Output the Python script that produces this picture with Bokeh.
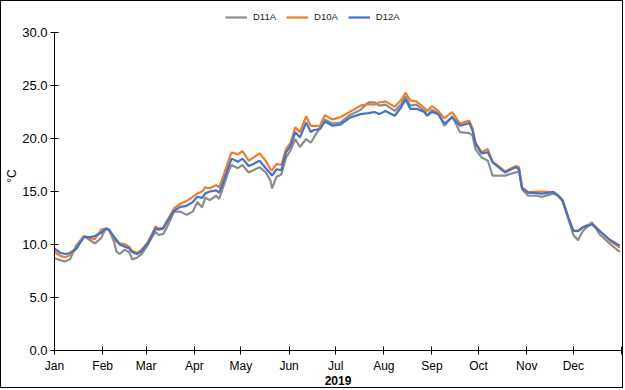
from bokeh.plotting import figure
from bokeh.models import Range1d, FixedTicker, Legend, LegendItem, PrintfTickFormatter
from bokeh.embed import file_html
from bokeh.resources import INLINE

# day of year 2019 (0 = 1 Jan)
days = [0, 4, 7, 10, 14, 19, 23, 26, 30, 33, 35, 38, 40, 42, 45, 48, 50, 53, 56, 60,
        63, 65, 67, 70, 72, 77, 81, 85, 89, 92, 95, 97, 100, 104, 106, 109, 112, 114, 118, 121,
        125, 128, 132, 136, 139, 140, 143, 146, 149, 152, 155, 158, 162, 165, 167, 171, 174, 179, 184, 190,
        197, 202, 206, 209, 213, 219, 223, 226, 229, 233, 238, 240, 243, 247, 251, 256, 261, 267, 269, 271,
        275, 279, 282, 285, 290, 297, 299, 301, 305, 310, 314, 321, 324, 327, 331, 334, 337, 340, 346, 351,
        358, 363, 364]

d12a = [9.6, 9.2, 9.1, 9.2, 9.6, 10.7, 10.7, 10.8, 11.1, 11.5, 11.4, 10.8, 10.4, 10.0, 9.8, 9.65, 9.3, 9.1, 9.35, 10.1,
        10.9, 11.5, 11.4, 11.5, 12.0, 13.2, 13.55, 13.65, 14.0, 14.5, 14.4, 14.8, 15.0, 15.1, 14.9, 16.05, 17.3, 18.1, 17.8, 18.1,
        17.4, 17.6, 17.9, 17.2, 16.7, 16.5, 17.1, 17.0, 18.7, 19.3, 20.6, 20.1, 21.5, 20.6, 20.8, 20.9, 21.6, 21.2, 21.3, 21.95,
        22.3, 22.4, 22.5, 22.3, 22.6, 22.15, 22.9, 23.7, 22.8, 22.8, 22.5, 22.15, 22.5, 22.3, 21.4, 22.0, 21.2, 21.45, 20.8, 19.5,
        18.6, 18.7, 17.75, 17.4, 16.8, 17.3, 17.1, 15.3, 14.9, 14.85, 14.8, 14.95, 14.65, 14.2, 12.45, 11.3, 11.25, 11.6, 11.9, 11.25,
        10.4, 9.96, 9.9]

d10a = [9.3, 8.9, 8.8, 9.0, 9.6, 10.8, 10.6, 10.5, 11.4, 11.5, 11.4, 10.7, 10.25, 10.1, 10.05, 9.8, 9.4, 9.2, 9.5, 10.2,
        11.05, 11.7, 11.5, 11.6, 12.15, 13.4, 13.85, 14.1, 14.5, 14.8, 15.0, 15.4, 15.3, 15.6, 15.4, 16.6, 17.9, 18.7, 18.5, 18.8,
        17.9, 18.2, 18.6, 17.9, 17.1, 17.0, 17.6, 17.5, 19.0, 19.6, 21.05, 20.6, 22.1, 21.2, 21.2, 21.2, 22.2, 21.8, 22.0, 22.5,
        23.1, 23.25, 23.2, 23.4, 23.5, 23.0, 23.6, 24.3, 23.6, 23.5, 22.9, 22.6, 23.05, 22.6, 21.9, 22.5, 21.4, 21.7, 21.0, 19.65,
        18.7, 19.0, 17.8, 17.5, 16.9, 17.4, 17.3, 15.4, 14.95, 15.0, 15.0, 14.95, 14.65, 14.2, 12.45, 11.3, 11.3, 11.65, 12.0, 11.3,
        10.3, 9.8, 9.7]

d11a = [8.7, 8.5, 8.4, 8.6, 9.9, 10.8, 10.4, 10.1, 10.6, 11.5, 11.4, 10.4, 9.3, 9.1, 9.5, 9.3, 8.6, 8.75, 9.1, 9.95,
        10.75, 11.2, 10.9, 11.0, 11.5, 13.1, 13.1, 12.8, 13.1, 14.0, 13.5, 14.4, 14.2, 14.6, 14.3, 15.6, 16.9, 17.5, 17.2, 17.5,
        16.8, 17.0, 17.3, 16.8, 16.05, 15.3, 16.4, 16.6, 18.2, 18.9, 19.95, 19.2, 19.95, 19.6, 20.1, 21.05, 21.8, 21.4, 21.5, 22.2,
        22.7, 23.4, 23.4, 23.1, 23.2, 22.6, 23.2, 23.95, 23.1, 23.2, 22.6, 22.2, 22.7, 22.4, 21.2, 22.1, 20.6, 20.5, 20.3, 19.0,
        18.2, 17.9, 16.5, 16.5, 16.5, 16.8, 16.9, 15.2, 14.6, 14.6, 14.5, 14.8, 14.6, 14.1, 12.3, 10.9, 10.4, 11.25, 12.1, 10.95,
        10.0, 9.4, 9.3]

month_ticks = [0, 31, 59, 90, 120, 151, 181, 212, 243, 273, 304, 334, 365]
month_labels = ["Jan", "Feb", "Mar", "Apr", "May", "Jun", "Jul", "Aug", "Sep", "Oct", "Nov", "Dec", ""]
y_ticks = [0, 5, 10, 15, 20, 25, 30]
series_names = ["D11A", "D10A", "D12A"]
series_colors = ["#8C8C8C", "#ED7D31", "#4472C4"]

FONT = "Liberation Sans"
W, H = 623, 388
BL, BR, BT, BB = 53, 3, 0, 39
frame_h = H - BT - BB
y_top = 30 + 31 * 30.0 / (frame_h - 31)   # leaves room above 30.0 for the legend

p = figure(width=W, height=H, output_backend="svg", toolbar_location=None,
           x_range=Range1d(0, 365), y_range=Range1d(0, y_top),
           min_border_left=BL, min_border_right=BR, min_border_top=BT, min_border_bottom=BB,
           background_fill_color="white", border_fill_color="white")
p.styles = {"border": "1px solid black"}
p.outline_line_color = None
p.xgrid.visible = False
p.ygrid.visible = False

renderers = []
for ys, col in zip([d11a, d10a, d12a], series_colors):
    r = p.line(days, ys, line_color=col, line_width=2.2)
    renderers.append(r)

legend = Legend(items=[LegendItem(label=n, renderers=[r]) for n, r in zip(series_names, renderers)],
                orientation="horizontal", location=(171, frame_h - 21),
                label_text_font=FONT, label_text_font_size="9.5px", label_text_color="#222222",
                glyph_width=22, glyph_height=10, label_height=10, label_standoff=6, spacing=10,
                padding=2, margin=0, border_line_color=None, background_fill_alpha=0)
p.add_layout(legend)

xa = p.xaxis[0]
xa.ticker = FixedTicker(ticks=month_ticks)
xa.major_label_overrides = {t: l for t, l in zip(month_ticks, month_labels)}
xa.minor_tick_line_color = None
xa.major_tick_in = 4
xa.major_tick_out = 4
xa.major_label_standoff = 4
xa.axis_line_color = "black"
xa.major_tick_line_color = "black"
xa.major_label_text_font = FONT
xa.major_label_text_font_size = "12px"
xa.major_label_text_color = "black"
xa.axis_label = "2019"
xa.axis_label_text_font = FONT
xa.axis_label_text_font_size = "12px"
xa.axis_label_text_font_style = "bold"
xa.axis_label_text_color = "black"
xa.axis_label_standoff = 0

ya = p.yaxis[0]
ya.ticker = FixedTicker(ticks=y_ticks)
ya.bounds = (0, 30)
ya.formatter = PrintfTickFormatter(format="%.1f")
ya.minor_tick_line_color = None
ya.major_tick_in = 4
ya.major_tick_out = 4
ya.major_label_standoff = 3
ya.axis_line_color = "black"
ya.major_tick_line_color = "black"
ya.major_label_text_font = FONT
ya.major_label_text_font_size = "13px"
ya.major_label_text_color = "black"
ya.axis_label = "°C"
ya.axis_label_text_font = FONT
ya.axis_label_text_font_size = "12px"
ya.axis_label_text_font_style = "normal"
ya.axis_label_text_color = "black"
ya.axis_label_standoff = 0

open("out.html", "w").write(file_html(p, INLINE))
